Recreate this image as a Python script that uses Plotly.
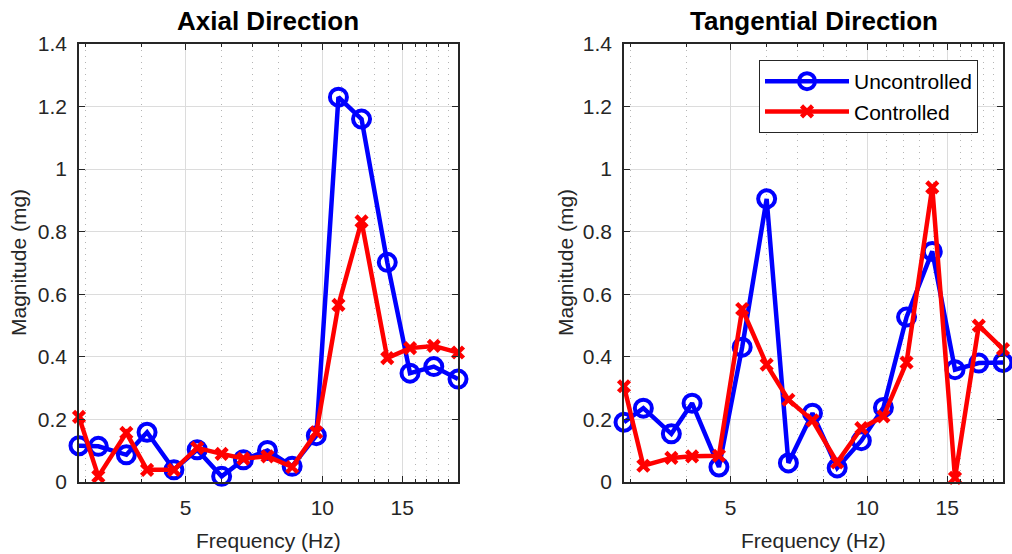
import math
import plotly.graph_objects as go

# ---------------- data ----------------
freq = [2.91, 3.21, 3.70, 4.11, 4.71, 5.30, 6.00, 6.70, 7.57, 8.58,
        9.70, 10.85, 12.2, 13.9, 15.6, 17.6, 19.9]

axial_uncontrolled = [0.116, 0.114, 0.087, 0.159, 0.039, 0.103, 0.018, 0.071, 0.101,
                      0.050, 0.148, 1.230, 1.160, 0.702, 0.348, 0.369, 0.329]
axial_controlled = [0.208, 0.018, 0.157, 0.039, 0.039, 0.109, 0.090, 0.075, 0.082,
                    0.048, 0.159, 0.566, 0.833, 0.396, 0.428, 0.435, 0.414]

tang_uncontrolled = [0.191, 0.236, 0.154, 0.252, 0.048, 0.431, 0.905, 0.061, 0.220,
                     0.045, 0.132, 0.238, 0.527, 0.737, 0.359, 0.380, 0.382]
tang_controlled = [0.306, 0.052, 0.077, 0.082, 0.084, 0.553, 0.375, 0.263, 0.197,
                   0.063, 0.172, 0.210, 0.382, 0.942, 0.013, 0.500, 0.425]

titles = ["Axial Direction", "Tangential Direction"]
x_label = "Frequency (Hz)"
y_label = "Magnitude (mg)"
x_major_ticks = [5, 10, 15]
x_minor_ticks = [3, 4, 6, 7, 8, 9, 11, 12, 13, 14, 16, 17, 18, 19]
y_ticks = [0, 0.2, 0.4, 0.6, 0.8, 1.0, 1.2, 1.4]
y_ticktext = ["0", "0.2", "0.4", "0.6", "0.8", "1", "1.2", "1.4"]

# ---------------- figure ----------------
W, H = 1012, 554
FONT = "Liberation Sans, Arial, sans-serif"
BLUE = "rgb(0,0,255)"
RED = "rgb(255,0,0)"
AX = "#262626"

fig = go.Figure()

panels = [(axial_uncontrolled, axial_controlled, "x", "y"),
          (tang_uncontrolled, tang_controlled, "x2", "y2")]
for i, (unc, con, xa, ya) in enumerate(panels):
    fig.add_trace(go.Scatter(
        x=freq, y=unc, xaxis=xa, yaxis=ya, mode="lines+markers",
        name="Uncontrolled", showlegend=(i == 1), cliponaxis=False,
        line=dict(color=BLUE, width=4.5),
        marker=dict(symbol="circle-open", size=17, color=BLUE,
                    line=dict(color=BLUE, width=4))))
    fig.add_trace(go.Scatter(
        x=freq, y=con, xaxis=xa, yaxis=ya, mode="lines+markers",
        name="Controlled", showlegend=(i == 1), cliponaxis=False,
        line=dict(color=RED, width=4.5),
        marker=dict(symbol="x-thin", size=11, color=RED,
                    line=dict(color=RED, width=4.5))))

xr = [math.log10(freq[0]), math.log10(freq[-1])]
xdoms = [[79 / W, 458 / W], [624 / W, 1003 / W]]
ydom = [72 / H, 510 / H]

def xaxis_cfg(dom, anchor):
    return dict(
        type="log", domain=dom, anchor=anchor, range=xr, automargin=False,
        tickmode="array", tickvals=x_major_ticks,
        ticktext=[str(v) for v in x_major_ticks],
        ticks="inside", ticklen=6, tickcolor=AX, tickwidth=1,
        showline=True, linecolor=AX, linewidth=1.5, mirror="ticks",
        showgrid=True, gridcolor="#dcdcdc", gridwidth=1,
        tickfont=dict(family=FONT, size=21, color="#262626"),
        ticklabelstandoff=6,
        zeroline=False,
        minor=dict(tickmode="array", tickvals=x_minor_ticks,
                   ticks="inside", ticklen=3, tickcolor=AX,
                   showgrid=True, gridcolor="#b5b5b5", griddash="1px,5px",
                   gridwidth=1),
    )

def yaxis_cfg(anchor):
    return dict(
        domain=ydom, anchor=anchor, range=[0, 1.4], automargin=False,
        tickmode="array", tickvals=y_ticks, ticktext=y_ticktext,
        ticks="inside", ticklen=6, tickcolor=AX, tickwidth=1,
        showline=True, linecolor=AX, linewidth=1.5, mirror="ticks",
        showgrid=True, gridcolor="#dcdcdc", gridwidth=1,
        tickfont=dict(family=FONT, size=21, color="#262626"),
        ticklabelstandoff=6,
        zeroline=False,
    )

fig.update_layout(
    width=W, height=H,
    margin=dict(l=0, r=0, t=0, b=0, autoexpand=False),
    paper_bgcolor="white", plot_bgcolor="white",
    xaxis=xaxis_cfg(xdoms[0], "y"),
    xaxis2=xaxis_cfg(xdoms[1], "y2"),
    yaxis=yaxis_cfg("x"),
    yaxis2=yaxis_cfg("x2"),
    showlegend=True,
    legend=dict(x=759 / W, y=1 - 60 / H, xanchor="left", yanchor="top",
                bgcolor="white", bordercolor=AX, borderwidth=1,
                font=dict(family=FONT, size=21, color="black"),
                itemwidth=84, tracegroupgap=0),
)

annotations = []
for i, dom in enumerate(xdoms):
    cx = (dom[0] + dom[1]) / 2
    annotations.append(dict(text="<b>%s</b>" % titles[i], xref="paper", yref="paper",
                            x=cx, y=1 - 21 / H, xanchor="center", yanchor="middle",
                            showarrow=False, font=dict(family=FONT, size=26, color="black")))
    annotations.append(dict(text=x_label, xref="paper", yref="paper",
                            x=cx, y=1 - 540 / H, xanchor="center", yanchor="middle",
                            showarrow=False, font=dict(family=FONT, size=21, color="#262626")))
    lx = [18, 565][i]
    annotations.append(dict(text=y_label, xref="paper", yref="paper",
                            x=lx / W, y=(ydom[0] + ydom[1]) / 2, xanchor="center",
                            yanchor="middle", textangle=-90,
                            showarrow=False, font=dict(family=FONT, size=21, color="#262626")))
fig.update_layout(annotations=annotations)

fig.write_html("out.html", config={"displayModeBar": False},
               post_script="document.body.style.margin='0';document.body.style.overflow='hidden';")
